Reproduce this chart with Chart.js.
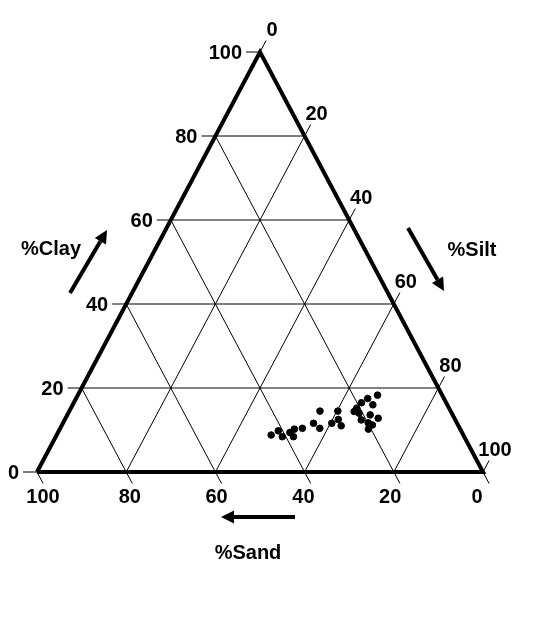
<!DOCTYPE html>
<html>
<head>
<meta charset="utf-8">
<script src="https://cdn.jsdelivr.net/npm/chart.js@4/dist/chart.umd.min.js"></script>
<style>
body{margin:0;background:#fff;}
</style>
</head>
<body>
<canvas id="ternary" width="559" height="636"></canvas>
<script>
// soil samples, percent of each fraction
var sand = [43.1, 41.0, 40.8, 38.6, 37.2, 38.3, 35.3, 32.2, 29.3, 31.4, 28.1, 25.3, 26.2, 26.3,
            21.7, 20.8, 20.7, 19.0, 17.1, 16.7, 14.5, 21.1, 18.5, 17.1, 19.9, 19.2, 20.6];
var silt = [48.1, 49.2, 50.8, 52.0, 52.6, 53.3, 54.3, 56.2, 56.2, 58.2, 60.3, 60.2, 61.3, 62.7,
            63.9, 65.2, 64.1, 64.5, 65.4, 67.3, 67.2, 66.5, 67.9, 70.1, 68.4, 69.6, 69.2];
var clay = [8.8, 9.8, 8.4, 9.4, 10.2, 8.4, 10.4, 11.6, 14.5, 10.4, 11.6, 14.5, 12.5, 11.0,
            14.4, 14.0, 15.2, 16.5, 17.5, 16.0, 18.3, 12.4, 13.6, 12.8, 11.7, 11.2, 10.2];

var tickValues = [0, 20, 40, 60, 80, 100];
var gridValues = [20, 40, 60, 80];

// ternary -> plain x/y (sand vertex bottom left, silt bottom right, clay top)
function tern(sa, si, cl){
    return {x: si + cl/2, y: cl};
}

var points = [];
for(var i=0;i<clay.length;i++){
    points.push(tern(sand[i], silt[i], clay[i]));
}

var datasets = [];

datasets.push({
    label: 'samples',
    data: points,
    pointRadius: 3.3,
    pointBackgroundColor: '#000',
    pointBorderColor: '#000',
    showLine: false,
    order: 0
});

datasets.push({
    label: 'outline',
    data: [tern(100,0,0), tern(0,100,0), tern(0,0,100), tern(100,0,0)],
    showLine: true,
    borderColor: '#000',
    borderWidth: 4,
    borderJoinStyle: 'miter',
    pointRadius: 0,
    clip: false,
    order: 1
});

gridValues.forEach(function(v){
    // clay constant
    datasets.push({data: [tern(100-v,0,v), tern(0,100-v,v)]});
    // silt constant
    datasets.push({data: [tern(0,v,100-v), tern(100-v,v,0)]});
    // sand constant
    datasets.push({data: [tern(v,0,100-v), tern(v,100-v,0)]});
});
for(var k=2;k<datasets.length;k++){
    datasets[k].showLine = true;
    datasets[k].borderColor = '#000';
    datasets[k].borderWidth = 1;
    datasets[k].pointRadius = 0;
    datasets[k].order = 2;
}

function arrow(ctx, x1, y1, x2, y2){
    var a = Math.atan2(y2-y1, x2-x1);
    var hl = 13, hw = 6.5;
    var bx = x2 - hl*Math.cos(a), by = y2 - hl*Math.sin(a);
    ctx.beginPath();
    ctx.moveTo(x1, y1);
    ctx.lineTo(bx, by);
    ctx.lineWidth = 4;
    ctx.stroke();
    ctx.beginPath();
    ctx.moveTo(x2, y2);
    ctx.lineTo(bx + hw*Math.sin(a), by - hw*Math.cos(a));
    ctx.lineTo(bx - hw*Math.sin(a), by + hw*Math.cos(a));
    ctx.closePath();
    ctx.fill();
}

var decor = {
    id: 'decor',
    afterDatasetsDraw: function(chart){
        var ctx = chart.ctx;
        var xs = chart.scales.x, ys = chart.scales.y;
        function pix(sa, si, cl){
            var p = tern(sa, si, cl);
            return {x: xs.getPixelForValue(p.x), y: ys.getPixelForValue(p.y)};
        }
        ctx.save();
        ctx.strokeStyle = '#000';
        ctx.fillStyle = '#000';
        ctx.lineWidth = 1;
        ctx.font = "bold 20px 'Liberation Sans', Arial, sans-serif";

        // direction along the edges (pixels)
        var R = pix(0,100,0), T = pix(0,0,100);
        var ex = R.x - T.x, ey = R.y - T.y, el = Math.sqrt(ex*ex+ey*ey);
        ex = ex/el; ey = ey/el;
        var tl = 13;

        tickValues.forEach(function(v){
            // clay, left edge
            var p = pix(100-v, 0, v);
            ctx.beginPath();
            ctx.moveTo(p.x, p.y); ctx.lineTo(p.x-14, p.y); ctx.stroke();
            ctx.textAlign = 'right'; ctx.textBaseline = 'middle';
            ctx.fillText(String(v), p.x-18, p.y+1);

            // silt, right edge
            p = pix(0, v, 100-v);
            ctx.beginPath();
            ctx.moveTo(p.x, p.y); ctx.lineTo(p.x+ex*tl, p.y-ey*tl); ctx.stroke();
            ctx.textAlign = 'center';
            ctx.fillText(String(v), p.x+12, p.y-22);

            // sand, bottom edge
            p = pix(v, 100-v, 0);
            ctx.beginPath();
            ctx.moveTo(p.x, p.y); ctx.lineTo(p.x+ex*tl, p.y+ey*tl); ctx.stroke();
            ctx.fillText(String(v), p.x + (v-50)*0.12, p.y+25);
        });

        ctx.textAlign = 'center';
        ctx.fillText('%Clay', 51, 249);
        ctx.fillText('%Silt', 472, 250);
        ctx.fillText('%Sand', 248, 553);

        arrow(ctx, 70, 293, 107, 230);
        arrow(ctx, 408, 228, 444, 291);
        arrow(ctx, 295, 517, 221, 517);
        ctx.restore();
    }
};

new Chart(document.getElementById('ternary'), {
    type: 'scatter',
    data: {datasets: datasets},
    options: {
        responsive: false,
        devicePixelRatio: 1,
        animation: false,
        layout: {padding: {left: 37, right: 76, top: 52, bottom: 164}},
        scales: {
            x: {type: 'linear', min: 0, max: 100, display: false},
            y: {type: 'linear', min: 0, max: 100, display: false}
        },
        plugins: {
            legend: {display: false},
            tooltip: {enabled: false}
        }
    },
    plugins: [decor]
});
</script>
</body>
</html>
